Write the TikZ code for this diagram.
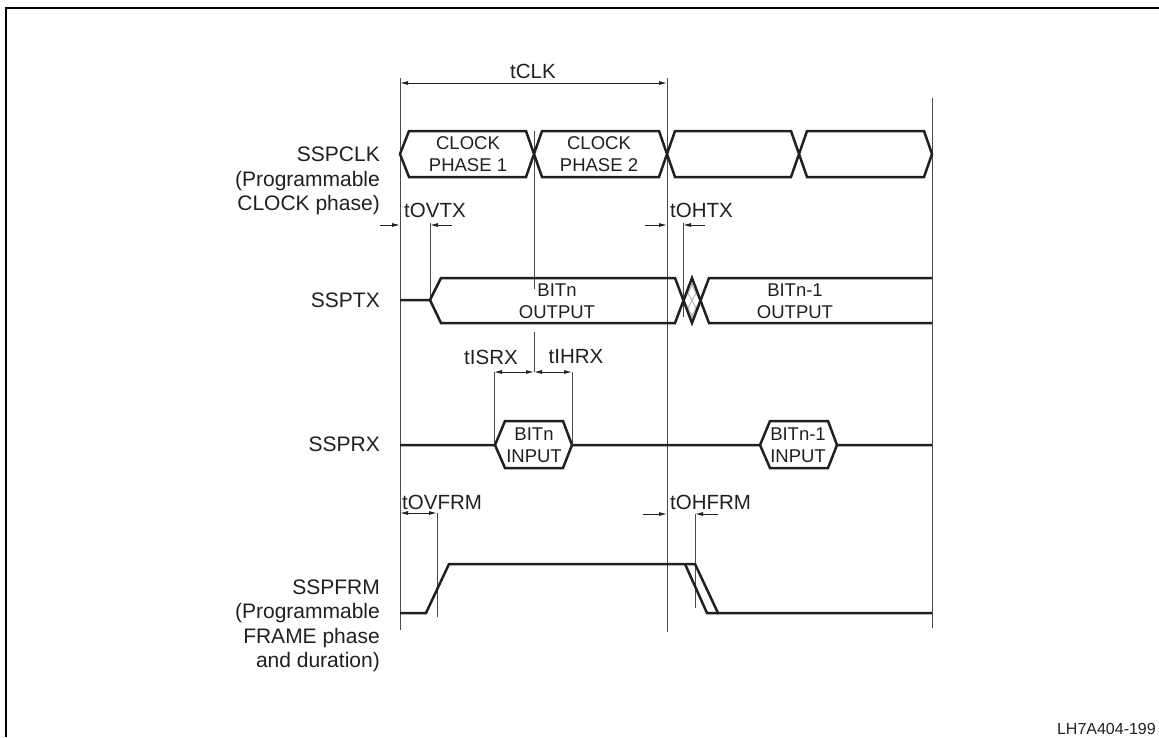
\documentclass[tikz,border=0pt]{standalone}
\usepackage{fontspec}
\setmainfont{Liberation Sans}
\usetikzlibrary{arrows.meta}
\definecolor{waveLine}{HTML}{231F20}
\definecolor{guideLine}{HTML}{4A4A4A}
\definecolor{hatchLine}{HTML}{9A9A9A}

\begin{document}
\begin{tikzpicture}[
  x=1pt, y=-1pt,
  wave/.style={line width=2.5pt, draw=waveLine, line join=miter},
  guide/.style={line width=0.9pt, draw=guideLine},
  hatch/.style={line width=0.6pt, draw=hatchLine},
  dimtip/.style={line width=0.9pt, draw=waveLine, -{Latex[length=8pt,width=4pt]}},
  dimboth/.style={line width=0.9pt, draw=waveLine,
    {Latex[length=8pt,width=4pt]}-{Latex[length=8pt,width=4pt]}},
  signame/.style={font=\fontsize{21}{24.5}\selectfont, align=right, anchor=east,
    inner sep=0pt, text=waveLine},
  timing/.style={font=\fontsize{20.5}{23}\selectfont, inner sep=0pt, text=waveLine},
  boxtext/.style={font=\fontsize{18.5}{21.5}\selectfont, align=center, inner sep=0pt,
    text=waveLine}
]
\useasboundingbox (0,0) rectangle (1159,737);

%  Frame 
\draw[line width=1.5pt] (6,737) -- (6,8) -- (1159,8);

%  Signal names 
\node[signame] (clkname) at (380,181) {SSPCLK\\(Programmable\\CLOCK phase)};
\node[signame] (txname)  at (380,300) {SSPTX};
\node[signame] (rxname)  at (380,444) {SSPRX};
\node[signame] (frmname) at (380,626) {SSPFRM\\(Programmable\\FRAME phase\\and duration)};

%  Guide lines 
\draw[guide] (400,78) -- (400,630);
\draw[guide] (667,78) -- (667,632);
\draw[guide] (932,98) -- (932,628);
\draw[guide] (534,131) -- (534,289);
\draw[guide] (534,332) -- (534,372);
\draw[guide] (430,223) -- (430,300);
\draw[guide] (683,223) -- (683,317);
\draw[guide] (494,372) -- (494,445);
\draw[guide] (572,372) -- (572,445);
\draw[guide] (437,513) -- (437,617);
\draw[guide] (695,514) -- (695,608);

%  tCLK 
\draw[dimboth] (400,83) -- (667,83);
\node[timing] (tclk) at (533,71) {tCLK};

%  SSPCLK 
\draw[wave] (400,154) -- (409,131) -- (526,131) -- (542,177) -- (659,177)
  -- (675,131) -- (791,131) -- (807,177) -- (924,177) -- (932,154)
  -- (924,131) -- (807,131) -- (791,177) -- (675,177) -- (659,131)
  -- (542,131) -- (526,177) -- (409,177) -- cycle;
\node[boxtext] (ph1) at (468,154) {CLOCK\\PHASE 1};
\node[boxtext] (ph2) at (599,154) {CLOCK\\PHASE 2};

%  SSPTX 
\node[timing, anchor=west] (tovtx) at (404,210) {tOVTX};
\draw[dimtip] (380,225) -- (400,225);
\draw[dimtip] (452,225) -- (430,225);
\node[timing, anchor=west] (tohtx) at (670,210) {tOHTX};
\draw[dimtip] (645,225) -- (667,225);
\draw[dimtip] (705,225) -- (683,225);

\begin{scope}
  \clip (683.5,300) -- (692,278) -- (700.5,300) -- (692,323) -- cycle;
  \foreach \s in {-24,-16,...,24} {
    \draw[hatch] (692+\s-12,323) -- (692+\s+12,278);
    \draw[hatch] (692+\s-12,278) -- (692+\s+12,323);
  }
\end{scope}
\draw[wave] (400,300) -- (430,300) -- (441,278) -- (675,278) -- (692,323)
  -- (709,278) -- (932,278);
\draw[wave] (430,300) -- (441,323) -- (675,323) -- (692,278) -- (709,323)
  -- (932,323);
\node[boxtext] (bitnout) at (557,301) {BITn\\OUTPUT};
\node[boxtext] (bitn1out) at (795,301) {BITn-1\\OUTPUT};

%  SSPRX 
\node[timing] (tisrx) at (491,357) {tISRX};
\node[timing] (tihrx) at (576,357) {tIHRX};
\draw[dimboth] (494,372) -- (534,372);
\draw[dimboth] (534,372) -- (572,372);

\draw[wave] (400,445) -- (495,445) -- (505,421) -- (563,421) -- (572,445)
  -- (760,445) -- (770,421) -- (828,421) -- (837,445) -- (932,445);
\draw[wave] (495,445) -- (505,468) -- (563,468) -- (572,445);
\draw[wave] (760,445) -- (770,468) -- (828,468) -- (837,445);
\node[boxtext] (bitnin) at (534,445) {BITn\\INPUT};
\node[boxtext] (bitn1in) at (798,445) {BITn-1\\INPUT};

%  SSPFRM 
\node[timing, anchor=west] (tovfrm) at (402,502) {tOVFRM};
\draw[dimboth] (400,513) -- (437,513);
\node[timing, anchor=west] (tohfrm) at (670,502) {tOHFRM};
\draw[dimtip] (643,514) -- (667,514);
\draw[dimtip] (718,514) -- (695,514);

\draw[wave] (400,613) -- (426,613) -- (449,564) -- (695,564) -- (718,613)
  -- (932,613);
\draw[wave] (685,564) -- (707,613) -- (718,613);

%  Figure code 
\node[font=\fontsize{16}{19}\selectfont, anchor=east, inner sep=0pt, text=waveLine]
  (figcode) at (1156,729) {LH7A404-199};

\end{tikzpicture}
\end{document}
